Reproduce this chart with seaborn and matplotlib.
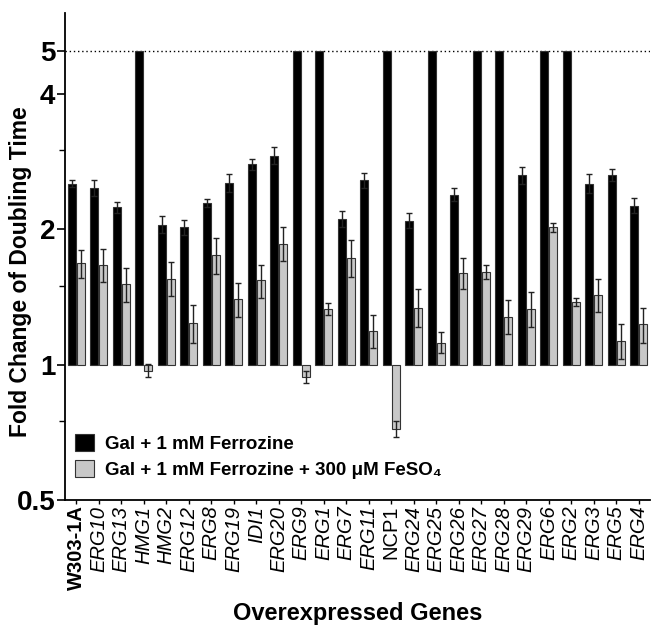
import seaborn as sns
import pandas as pd
import matplotlib.pyplot as plt
from matplotlib.ticker import NullFormatter

genes = ["W303-1A", "ERG10", "ERG13", "HMG1", "HMG2", "ERG12", "ERG8", "ERG19",
         "IDI1", "ERG20", "ERG9", "ERG1", "ERG7", "ERG11", "NCP1", "ERG24",
         "ERG25", "ERG26", "ERG27", "ERG28", "ERG29", "ERG6", "ERG2", "ERG3",
         "ERG5", "ERG4"]

# fold change, bars start at 1 (values of 5 = capped, no growth)
ferrozine = [2.53, 2.47, 2.24, 5, 2.05, 2.02, 2.29, 2.54, 2.79, 2.92, 5, 5, 2.11,
             2.57, 5, 2.09, 5, 2.39, 5, 5, 2.64, 5, 5, 2.53, 2.64, 2.26]
ferrozine_err = [0.05, 0.10, 0.06, 0, 0.09, 0.08, 0.05, 0.12, 0.08, 0.13, 0, 0,
                 0.09, 0.10, 0, 0.08, 0, 0.08, 0, 0, 0.12, 0, 0, 0.12, 0.08, 0.09]

ferrozine_fe = [1.68, 1.67, 1.51, 0.97, 1.555, 1.24, 1.75, 1.40, 1.54, 1.86, 0.94,
                1.33, 1.73, 1.19, 0.72, 1.34, 1.12, 1.60, 1.61, 1.28, 1.33, 2.02,
                1.38, 1.43, 1.13, 1.23]
ferrozine_fe_err = [0.12, 0.14, 0.13, 0.033, 0.135, 0.12, 0.16, 0.12, 0.13, 0.16,
                    0.03, 0.04, 0.16, 0.10, 0.03, 0.13, 0.06, 0.13, 0.06, 0.11,
                    0.12, 0.05, 0.03, 0.12, 0.10, 0.11]

cond_labels = ["Gal + 1 mM Ferrozine", "Gal + 1 mM Ferrozine + 300 \u03bcM FeSO\u2084"]
colors = ["#000000", "#c8c8c8"]

df = pd.DataFrame({
    "gene": genes * 2,
    "fold": ferrozine + ferrozine_fe,
    "condition": [cond_labels[0]] * len(genes) + [cond_labels[1]] * len(genes),
})
errs = [ferrozine_err, ferrozine_fe_err]

sns.set_style("ticks")
plt.rcParams["font.family"] = ["Liberation Sans", "DejaVu Sans"]
plt.rcParams["text.color"] = "k"
plt.rcParams["axes.labelcolor"] = "k"
plt.rcParams["xtick.color"] = "k"
plt.rcParams["ytick.color"] = "k"

fig = plt.figure(figsize=(6.51, 6.30), dpi=100)
ax = fig.add_axes([65 / 651, 1 - 500 / 630, 585 / 651, 487 / 630])

sns.barplot(data=df, x="gene", y="fold", hue="condition", palette=colors,
            width=0.8, gap=0.12, edgecolor="#333333", linewidth=0.8,
            errorbar=None, ax=ax)

bar_conts = list(ax.containers)

# bars begin at y = 1
for i, cont in enumerate(bar_conts):
    xs = []
    for rect in cont:
        top = rect.get_height()
        rect.set_y(1)
        rect.set_height(top - 1)
        xs.append(rect.get_x() + rect.get_width() / 2)
    vals = df[df["condition"] == cond_labels[i]]["fold"].values
    for x, v, e in zip(xs, vals, errs[i]):
        if e > 0:
            ax.errorbar(x, v, yerr=e, fmt="none", ecolor="#222222",
                        elinewidth=1, capsize=2, capthick=1)

ax.axhline(5, ls=(0, (1, 2)), color="k", lw=1, zorder=0)

ax.set_yscale("log", base=2)
ax.set_ylim(0.5, 6.06)
ax.set_xlim(-0.5, 25.5)
ax.set_yticks([0.5, 1, 2, 4, 5], ["0.5", "1", "2", "4", "5"])
ax.set_yticks([0.75, 1.5, 3], minor=True)
ax.yaxis.set_minor_formatter(NullFormatter())
ax.tick_params(axis="y", which="major", labelsize=20, length=6, width=1.2, pad=1)
ax.tick_params(axis="y", which="minor", length=4, width=1.0)
ax.tick_params(axis="x", length=3, width=1.0, pad=1)
for t in ax.get_yticklabels():
    t.set_fontweight("bold")

ax.set_xticks(range(len(genes)))
ax.set_xticklabels(genes, rotation=90, fontsize=14.5)
for t in ax.get_xticklabels():
    if t.get_text() == "W303-1A":
        t.set_fontweight("bold")
    elif t.get_text() != "NCP1":
        t.set_fontstyle("italic")

ax.set_ylabel("Fold Change of Doubling Time", fontsize=16.5, fontweight="bold")
ax.yaxis.set_label_coords(-0.056, 0.468)
ax.set_xlabel("Overexpressed Genes", fontsize=17, fontweight="bold", labelpad=8)

for s in ["left", "bottom"]:
    ax.spines[s].set_linewidth(1.3)
    ax.spines[s].set_color("k")
sns.despine(ax=ax)

ax.legend(bar_conts, cond_labels, loc="lower left", bbox_to_anchor=(-0.012, 0.008),
          frameon=False, prop={"size": 13.5, "weight": "bold"}, handlelength=1.0,
          handleheight=1.0, handletextpad=0.6, labelspacing=0.4)

fig.savefig("out.png", dpi=100)
